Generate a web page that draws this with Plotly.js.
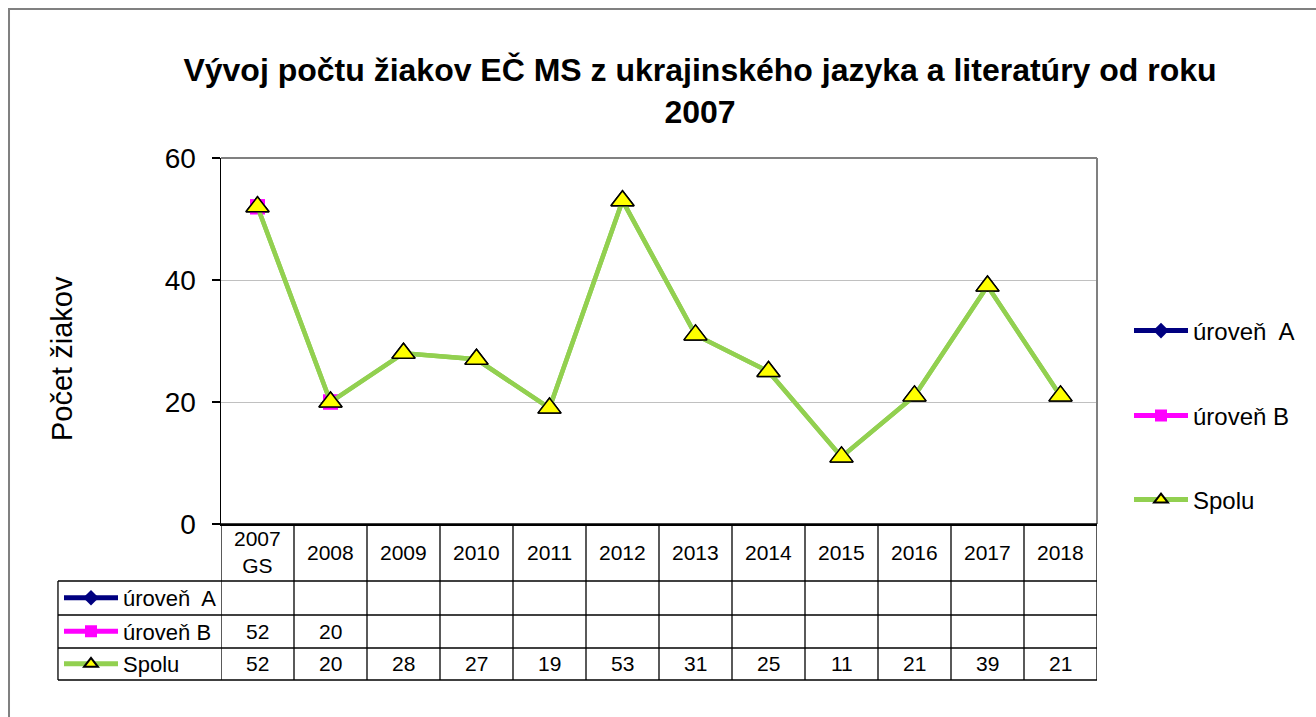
<!DOCTYPE html>
<html>
<head>
<meta charset="utf-8">
<script src="https://cdn.plot.ly/plotly-3.0.1.min.js"></script>
<style>html,body{margin:0;padding:0;background:#fff;}#chart{width:1316px;height:717px;}</style>
</head>
<body>
<div id="chart"></div>
<script>
const categories = ['2007 GS','2008','2009','2010','2011','2012','2013','2014','2015','2016','2017','2018'];
const urovenA = [null,null,null,null,null,null,null,null,null,null,null,null];
const urovenB = [52,20,null,null,null,null,null,null,null,null,null,null];
const spolu = [52,20,28,27,19,53,31,25,11,21,39,21];
const seriesNames = ['úroveň\u00a0 A','úroveň B','Spolu'];
const yTicks = [0,20,40,60];
const titleText = 'Vývoj počtu žiakov EČ MS z ukrajinského jazyka a literatúry od roku<br>2007';
const yTitle = 'Počet žiakov';

const FONT = 'Liberation Sans, Arial, sans-serif';
const seriesData = [urovenA, urovenB, spolu];
const styles = [
  {line:{color:'#000080',width:2}, marker:{symbol:'diamond',size:11,color:'#000080'}},
  {line:{color:'#ff00ff',width:2}, marker:{symbol:'square',size:15,color:'#ff00ff'}},
  {line:{color:'#92d050',width:4.5}, marker:{symbol:'triangle-up',size:20,color:'#ffff00',line:{color:'#000',width:1.5}}}
];

const traces = [];
// table legend keys (drawn underneath, identical data)
seriesData.forEach((d,i)=>{
  traces.push({x:categories, y:d, type:'scatter', mode:'lines+markers', name:seriesNames[i],
    line:styles[i].line, marker:styles[i].marker, legend:'legend'+(i+4), hoverinfo:'skip', connectgaps:false});
});
seriesData.forEach((d,i)=>{
  traces.push({x:categories, y:d, type:'scatter', mode:'lines+markers', name:seriesNames[i],
    line:styles[i].line, marker:styles[i].marker, legend: i===0?'legend':'legend'+(i+1), connectgaps:false});
});

// table geometry (paper coords)
const rowLines = [0, -0.1557, -0.2486, -0.3388, -0.4262];
const tableLeft = -0.1861;
const shapes = [];
shapes.push({type:'rect', xref:'paper', yref:'paper', x0:-0.242, x1:1.6, y0:-1, y1:1.4071, line:{color:'#808080',width:2}, layer:'below'});
shapes.push({type:'line', xref:'paper', yref:'paper', x0:0, x1:1, y0:1, y1:1, line:{color:'#808080',width:2}});
shapes.push({type:'line', xref:'paper', yref:'paper', x0:1, x1:1, y0:0, y1:1, line:{color:'#808080',width:2}});
rowLines.forEach((y,i)=>{
  shapes.push({type:'line', xref:'paper', yref:'paper', x0: i<=0?0:tableLeft, x1:1, y0:y, y1:y, line:{color:'#000',width:1.3}});
});
for (let i=0;i<=categories.length;i++){
  shapes.push({type:'line', xref:'x', yref:'paper', x0:i-0.5, x1:i-0.5, y0:0, y1:rowLines[4], line:{color:'#000',width:1.3}});
}
shapes.push({type:'line', xref:'paper', yref:'paper', x0:tableLeft, x1:tableLeft, y0:rowLines[1], y1:rowLines[4], line:{color:'#000',width:1.3}});

const annotations = [];
categories.forEach((c,i)=>{
  annotations.push({x:i, xref:'x', yref:'paper', y:(rowLines[0]+rowLines[1])/2, yanchor:'middle', xanchor:'center',
    text:c.replace(' ','<br>'), showarrow:false, font:{family:FONT,size:21,color:'#000'}});
});
seriesData.forEach((d,r)=>{
  d.forEach((v,i)=>{
    if (v===null) return;
    annotations.push({x:i, xref:'x', yref:'paper', y:(rowLines[r+1]+rowLines[r+2])/2, yanchor:'middle', xanchor:'center',
      text:String(v), showarrow:false, font:{family:FONT,size:21,color:'#000'}});
  });
});
annotations.push({text:yTitle, xref:'paper', yref:'paper', x:(62-221)/876, y:(524-359)/366, textangle:-90,
  showarrow:false, xanchor:'center', yanchor:'middle', font:{family:FONT,size:29,color:'#000'}});

function leg(x,y,size,iw){
  return {x:x, y:y, xref:'paper', yref:'paper', xanchor:'left', yanchor:'middle', bgcolor:'rgba(0,0,0,0)',
    font:{family:FONT,size:size,color:'#000'}, itemwidth:iw, itemsizing:'constant', borderwidth:0};
}
const mainX = (1129-221)/876;
const tabX = (59-221)/876;

const layout = {
  width:1316, height:717,
  margin:{l:221, r:219, t:158, b:193, pad:0},
  paper_bgcolor:'#fff', plot_bgcolor:'#fff',
  title:{text:titleText, x:700/1316, xref:'container', xanchor:'center', y:1-81/717, yanchor:'top',
    font:{family:FONT,size:32,color:'#000',weight:'bold'}},
  xaxis:{type:'category', range:[-0.5,11.5], showticklabels:false, ticks:'', showgrid:false,
    showline:true, linecolor:'#000', linewidth:1.5, zeroline:false, fixedrange:true},
  yaxis:{range:[0,60], tickvals:yTicks, ticks:'outside', ticklen:8, tickcolor:'#000', tickwidth:1.3,
    showline:true, linecolor:'#000', linewidth:1.5, showgrid:true, gridcolor:'#c0c0c0', gridwidth:1,
    zeroline:false, tickfont:{family:FONT,size:28,color:'#000'}, ticklabelstandoff:10, fixedrange:true},
  showlegend:true,
  legend:leg(mainX,(524-331)/366,24,54),
  legend2:leg(mainX,(524-416)/366,24,54),
  legend3:leg(mainX,(524-500)/366,24,54),
  legend4:leg(tabX,(524-598)/366,22,54),
  legend5:leg(tabX,(524-631.5)/366,22,54),
  legend6:leg(tabX,(524-664)/366,22,54),
  shapes:shapes,
  annotations:annotations
};

Plotly.newPlot('chart', traces, layout, {displayModeBar:false, staticPlot:true});
</script>
</body>
</html>
